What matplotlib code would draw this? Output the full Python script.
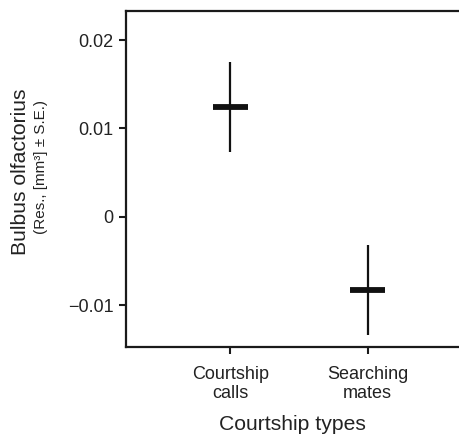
import matplotlib
matplotlib.use("Agg")
import matplotlib.pyplot as plt

plt.rcParams['font.family'] = ['Liberation Sans', 'DejaVu Sans']

categories = ["Courtship\ncalls", "Searching\nmates"]
means = [0.0124, -0.0083]
se = [0.0051, 0.0051]
yticks = [-0.01, 0, 0.01, 0.02]
yticklabels = ["\u22120.01", "0", "0.01", "0.02"]

fig = plt.figure(figsize=(4.59, 4.37), dpi=100)
ax = fig.add_axes([126/459, 1-347/437, 1-126/459+0.01, (347-11)/437])

xs = [1, 2]
for x, m, s in zip(xs, means, se):
    ax.plot([x, x], [m - s, m + s], color='#111111', lw=1.6, solid_capstyle='butt')
    ax.plot([x - 0.13, x + 0.13], [m, m], color='#111111', lw=4.2, solid_capstyle='butt')

ax.set_xlim(0.239, 2.70)
ax.set_ylim(-0.01475, 0.0233)
ax.set_xticks(xs)
ax.set_xticklabels(categories, fontsize=13, linespacing=1.15)
ax.set_yticks(yticks)
ax.set_yticklabels(yticklabels, fontsize=13)
for sp in ax.spines.values():
    sp.set_linewidth(1.6)
    sp.set_color('#1a1a1a')
ax.spines['right'].set_visible(False)
ax.tick_params(axis='both', direction='out', length=5, width=1.5, color='#1a1a1a', labelcolor='#222222')
ax.tick_params(axis='x', pad=9)
ax.tick_params(axis='y', pad=4)

fig.text(292/459, 1 - 425/437, "Courtship types", fontsize=15.2,
         ha='center', va='center', color='#222222')
fig.text(21/459, 1 - 172/437, "Bulbus olfactorius", fontsize=15.2, rotation=90,
         ha='center', va='center', color='#222222')
fig.text(41/459, 1 - 167.5/437, "(Res., [mm\u00b3] \u00b1 S.E.)", fontsize=11, rotation=90,
         ha='center', va='center', color='#222222')

fig.savefig("out.png", dpi=100)
